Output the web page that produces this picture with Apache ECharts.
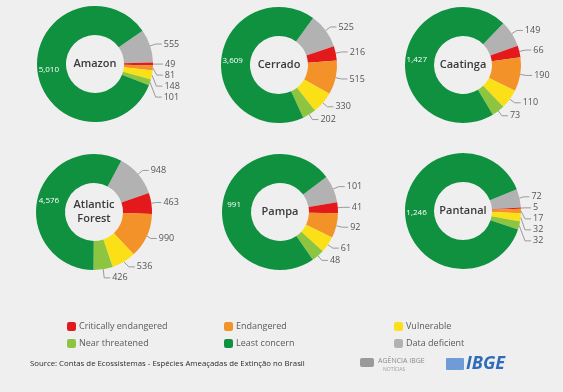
<!DOCTYPE html>
<html><head><meta charset="utf-8">
<script src="https://cdn.jsdelivr.net/npm/echarts@6/dist/echarts.min.js"></script>
<style>html,body{margin:0;padding:0;background:#efefef;}#c{width:563px;height:392px;}</style>
</head><body><div id="c"></div>
<script>
// Categories in legend order
const categories = ['Critically endangered', 'Endangered', 'Vulnerable', 'Near threatened', 'Least concern', 'Data deficient'];
const biomes = ['Amazon', 'Cerrado', 'Caatinga', 'Atlantic\nForest', 'Pampa', 'Pantanal'];
// values per biome, in category order above
const amazon = [49, 81, 148, 101, 5010, 555];
const cerrado = [216, 515, 330, 202, 3609, 525];
const caatinga = [66, 190, 110, 73, 1427, 149];
const atlanticForest = [463, 990, 536, 426, 4576, 948];
const pampa = [41, 92, 61, 48, 991, 101];
const pantanal = [5, 17, 32, 32, 1246, 72];
const sourceText = 'Source: Contas de Ecossistemas - Espécies Ameaçadas de Extinção no Brasil';

const colors = {
  'Critically endangered': '#e3191c',
  'Endangered': '#f39229',
  'Vulnerable': '#fbe018',
  'Near threatened': '#8dc440',
  'Least concern': '#0f9140',
  'Data deficient': '#b2b2b2'
};
const allValues = [amazon, cerrado, caatinga, atlanticForest, pampa, pantanal];
const centers = [[95, 64], [279, 65], [463, 65], [94, 212], [280, 212], [463, 211]];
const startAngles = [35, 54, 46, 62, 37, 22];
const drawOrder = [5, 0, 1, 2, 3, 4]; // clockwise: DD, CR, EN, VU, NT, LC

const fmt = v => v.toLocaleString('en-US');
const FONT = '"Open Sans", "Noto Sans", sans-serif';

const series = allValues.map((vals, i) => ({
  type: 'pie',
  center: centers[i],
  radius: [29, 58],
  startAngle: startAngles[i],
  clockwise: true,
  avoidLabelOverlap: true,
  animation: false,
  silent: true,
  label: {
    show: true,
    position: 'outside',
    formatter: p => fmt(p.value),
    fontSize: 9,
    color: '#555',
    fontFamily: FONT,
    distanceToLabelLine: 2
  },
  labelLine: { show: true, length: 6, length2: 6, lineStyle: { color: '#9a9a9a', width: 1 } },
  itemStyle: { borderWidth: 0 },
  data: drawOrder.map(k => {
    const name = categories[k];
    const item = { name: name, value: vals[k], itemStyle: { color: colors[name] } };
    if (name === 'Least concern') {
      item.label = { position: 'inside', color: '#ffffff', fontSize: 8 };
      item.labelLine = { show: false };
    }
    return item;
  })
}));

const legendCols = [[0, 3], [1, 4], [2, 5]];
const legendLeft = [62, 219, 389];
const legends = legendCols.map((ks, i) => ({
  orient: 'vertical',
  left: legendLeft[i],
  top: 317,
  itemWidth: 9,
  itemHeight: 9,
  itemGap: 8,
  icon: 'roundRect',
  selectedMode: false,
  textStyle: { fontSize: 9, color: '#5a5a5a', fontFamily: FONT, padding: [0, 0, 0, -2] },
  data: ks.map(k => categories[k])
}));

const graphics = biomes.map((b, i) => ({
  type: 'text',
  x: centers[i][0],
  y: centers[i][1],
  style: {
    text: b,
    fill: '#3a3a3a',
    font: '600 11px ' + FONT,
    align: 'center',
    verticalAlign: 'middle',
    lineHeight: 14
  }
}));
graphics.push({
  type: 'text', x: 30, y: 364,
  style: { text: sourceText, fill: '#2a2a2a', font: '7.8px ' + FONT, verticalAlign: 'middle' }
});
graphics.push({
  type: 'text', x: 378, y: 361,
  style: { text: 'AGÊNCIA IBGE', fill: '#8a8a8a', font: '7px ' + FONT, verticalAlign: 'middle' }
});
graphics.push({
  type: 'text', x: 383, y: 370,
  style: { text: 'NOTÍCIAS', fill: '#a0a0a0', font: '5px ' + FONT, verticalAlign: 'middle' }
});
graphics.push({
  type: 'rect', shape: { x: 360, y: 358, width: 14, height: 9, r: 2 },
  style: { fill: '#9a9a9a' }
});
graphics.push({
  type: 'rect', shape: { x: 446, y: 358, width: 18, height: 12, r: 1 },
  style: { fill: '#6f9bd6' }
});
graphics.push({
  type: 'text', x: 466, y: 364,
  style: { text: 'IBGE', fill: '#2f6bb8', font: 'italic bold 18px ' + FONT, verticalAlign: 'middle' }
});

const chart = echarts.init(document.getElementById('c'), null, { renderer: 'canvas' });
chart.setOption({
  backgroundColor: '#efefef',
  animation: false,
  legend: legends,
  series: series,
  graphic: graphics
});
</script></body></html>
